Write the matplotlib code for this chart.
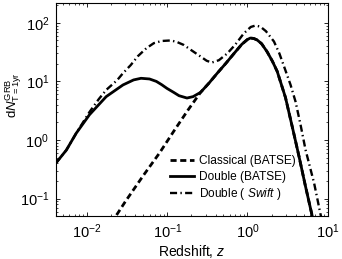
import numpy as np
import matplotlib
matplotlib.use("Agg")
import matplotlib.pyplot as plt

plt.rcParams["font.family"] = ["Liberation Sans", "DejaVu Sans"]
plt.rcParams["mathtext.fontset"] = "custom"
plt.rcParams["mathtext.rm"] = "Liberation Sans"
plt.rcParams["mathtext.it"] = "Liberation Sans:italic"
plt.rcParams["mathtext.bf"] = "Liberation Sans:bold"

# values (redshift, number per year)
z_classical = [0.02, 0.03, 0.05, 0.08, 0.12, 0.18, 0.26, 0.33, 0.42, 0.54,
               0.68, 0.85, 1.0, 1.09, 1.2, 1.32, 1.5, 1.76, 2.05, 2.35,
               2.98, 3.65, 4.4, 5.25, 6.45, 7.0]
n_classical = [0.038, 0.089, 0.245, 0.6, 1.4, 3.2, 6.5, 9.3, 13.8, 20.5,
               30, 43, 52, 55, 54, 51, 44, 32, 22, 14.8,
               5.3, 1.6, 0.52, 0.17, 0.049, 0.03]

z_double = [0.004, 0.0055, 0.0073, 0.0107, 0.0173, 0.028, 0.038, 0.047, 0.06,
            0.073, 0.085, 0.099, 0.12, 0.14, 0.176, 0.21, 0.26, 0.33, 0.42,
            0.54, 0.68, 0.85, 1.0, 1.09, 1.2, 1.32, 1.5, 1.76, 2.05, 2.35,
            2.98, 3.65, 4.4, 5.25, 6.45, 7.0]
n_double = [0.39, 0.67, 1.3, 2.7, 5.5, 8.7, 10.6, 11.3, 11.0,
            10.0, 8.8, 7.6, 6.5, 5.7, 5.2, 5.5, 6.5, 9.3, 13.8,
            20.5, 30, 43, 52, 55, 54, 51, 44, 32, 22, 14.8,
            5.3, 1.6, 0.52, 0.17, 0.049, 0.03]

z_swift = [0.004, 0.0055, 0.0073, 0.0107, 0.014, 0.0174, 0.0237, 0.028, 0.035,
           0.043, 0.055, 0.068, 0.085, 0.11, 0.13, 0.16, 0.2, 0.26, 0.31,
           0.36, 0.44, 0.56, 0.7, 0.9, 1.1, 1.26, 1.45, 1.7, 2.14, 2.5,
           2.82, 3.45, 3.98, 4.6, 5.3, 6.8, 8.1, 9.0]
n_swift = [0.39, 0.67, 1.3, 3.0, 5.0, 7.2, 10.5, 13.8, 19,
           27, 37, 45, 49, 50, 47.5, 42, 34, 26.6, 22.5,
           21, 23, 30, 42, 66, 85, 90, 86, 72, 48, 30,
           19, 8.7, 4.5, 1.8, 0.68, 0.18, 0.056, 0.03]

xticks = [1e-2, 1e-1, 1e0, 1e1]
yticks = [1e-1, 1e0, 1e1, 1e2]

fig = plt.figure(figsize=(3.42, 2.59), dpi=100)
ax = fig.add_axes([0.164, 0.167, 0.794, 0.82])

ax.plot(z_classical, n_classical, color="k", lw=2.0, ls=(0, (2.2, 1.3)),
        label="Classical (BATSE)")
ax.plot(z_double, n_double, color="k", lw=2.0, ls="-",
        label="Double (BATSE)")
ax.plot(z_swift, n_swift, color="k", lw=1.7, ls=(0, (3, 1.4, 0.6, 1.4)),
        label=r"Double ( $\mathit{Swift}$ )")

ax.set_xscale("log")
ax.set_yscale("log")
ax.set_xlim(0.0041, 10)
ax.set_ylim(0.0508, 215)
ax.set_xticks(xticks)
ax.set_yticks(yticks)
ax.tick_params(which="both", direction="in", top=True, right=True,
               labelsize=10.5, pad=5)
ax.tick_params(which="major", length=3, width=0.6)
ax.tick_params(which="minor", length=1.5, width=0.5)
for s in ax.spines.values():
    s.set_linewidth(0.8)

ax.set_xlabel(r"Redshift, $\mathit{z}$", fontsize=10, labelpad=1)
ax.set_ylabel(r"d$\mathit{N}^{\rm GRB}_{\rm T=1yr}$", fontsize=9.5)
ax.yaxis.set_label_coords(-0.118, 0.57)

ax.legend(loc="lower right", frameon=False, fontsize=8.6, handlelength=2.0,
          handletextpad=0.45, labelspacing=0.28, bbox_to_anchor=(0.915, 0.025),
          borderpad=0.2)

fig.savefig("out.png", dpi=100)
